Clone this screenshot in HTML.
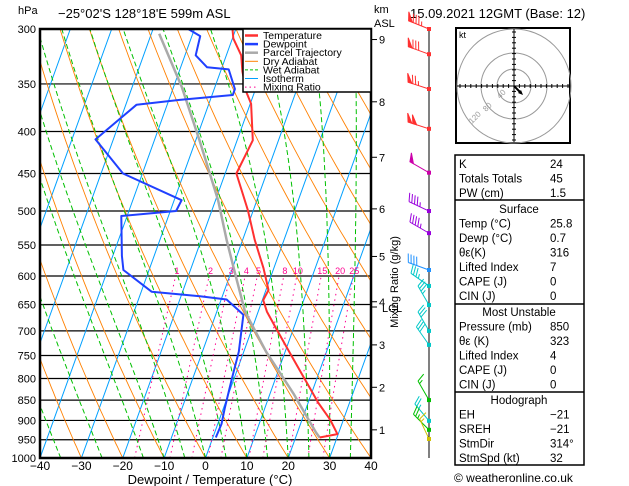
<!DOCTYPE html>
<html><head><meta charset="utf-8"><style>
body{margin:0;background:#fff;}
svg{display:block;font-family:"Liberation Sans",sans-serif;}
</style></head><body>
<svg id="c" width="629" height="486" viewBox="0 0 629 486" xmlns="http://www.w3.org/2000/svg">
<defs><clipPath id="pc"><rect x="40" y="29" width="331" height="429"/></clipPath></defs>
<text x="18" y="14" font-size="11">hPa</text>
<text x="58" y="18" font-size="13">−25°02'S 128°18'E 599m ASL</text>
<text x="374" y="13" font-size="11">km</text>
<text x="374" y="27" font-size="11">ASL</text>
<text x="410" y="18" font-size="13">15.09.2021 12GMT (Base: 12)</text>
<g id="grid" clip-path="url(#pc)"></g>
<g id="iso" clip-path="url(#pc)"></g>
<g id="series" clip-path="url(#pc)"></g>
<g id="axes"></g>
<g id="legend">
<rect x="243" y="29" width="128" height="63" fill="#fff" stroke="#000" stroke-width="1.5"/>
</g>
<g id="barbs"></g>
<g id="hodo"></g>
<g id="table"></g>
<text x="454" y="482" font-size="12">© weatheronline.co.uk</text>
</svg>
<script>
const tempP=[300,308,323,338,359,370,410,450,499,542,587,624,642,663,698,745,796,857,898,935,944];
const tempT=[-30.8,-29.8,-26.4,-24.7,-21.8,-19.8,-16.2,-17.3,-11.3,-7.1,-2.5,0.6,0.2,2.1,6.1,11.3,16.6,22.5,26.8,29.8,25.8];
const dewP=[300,306,323,334,336,355,361,366,371,409,450,485,500,507,567,590,627,635,641,660,669,742,803,868,909,944];
const dewT=[-41.5,-38,-37.4,-33.6,-28.2,-25,-25,-37.4,-47.4,-54.3,-44.7,-28.2,-28.6,-41.4,-37.8,-36.2,-27.5,-15.4,-8.7,-5,-3.3,-1.2,-0.5,0.3,0.9,0.7];
const parcelP=[304,353,410,485,542,596,663,742,834,931,944];
const parcelT=[-48.1,-38,-29.1,-19.4,-13.9,-8.9,-3.2,5.4,15.6,24.5,25.8];
const pLevels=[300,350,400,450,500,550,600,650,700,750,800,850,900,950,1000];
const tTicks=[-40,-30,-20,-10,0,10,20,30,40];
const kmLabels=["9","8","7","6","5","4","3","2","1"];
const kmPress=[309,368,430,497,568,645,728,820,924];
const mixW=[1,2,3,4,5,8,10,15,20,25];
const barbP=[300,322,355,397,449,500,532,590,617,651,700,728,850,901,924,948];
const barbSpd=[85,80,75,100,50,45,45,40,35,35,30,30,15,25,25,15];
const barbDir=[292,290,288,288,300,295,300,290,305,330,330,325,330,320,315,335];
const barbCol=["#ff3030","#ff3030","#ff3030","#ff3030","#cc00aa","#9900dd","#9900dd","#1e90ff","#00c8c8","#00c8c8","#00c8c8","#00c8c8","#00c000","#00c8c8","#00c000","#d0c000"];

const NS="http://www.w3.org/2000/svg";
const L=Math.log(1000/300);
function Y(p){return 29+429*Math.log(p/300)/L;}
function X(T,p){return 40+(T+40)*4.1375+0.36*(458-Y(p));}
function mk(tag,attrs,parent){const e=document.createElementNS(NS,tag);for(const k in attrs)e.setAttribute(k,attrs[k]);parent.appendChild(e);return e;}
function pathFrom(pts){return pts.map((q,i)=>(i?"L":"M")+q[0].toFixed(1)+","+q[1].toFixed(1)).join("");}
const grid=document.getElementById('grid'),iso=document.getElementById('iso'),ser=document.getElementById('series'),ax=document.getElementById('axes');

for(let T=-120;T<=40;T+=10){
  const e=mk('line',{x1:X(T,1000),y1:Y(1000),x2:X(T,300),y2:Y(300),stroke:"#00a0ff","stroke-width":1},iso);
  
  
}
for(let th=-60;th<=150;th+=10){
  const pts=[];for(let p=1000;p>=300;p-=10){const T=(th+273.15)*Math.pow(p/1000,0.286)-273.15;pts.push([X(T,p),Y(p)]);}
  const e=mk('path',{d:pathFrom(pts),fill:"none",stroke:"#ff8000","stroke-width":0.9},iso);
  
  
}
function es(Tc){return 6.112*Math.exp(17.67*Tc/(Tc+243.5));}
const wetStart=[-35,-25,-15,-10,-5,0,5,10,15,20,25,30,35,40];
wetStart.forEach(t0=>{
  let T=t0+273.15;const pts=[];
  for(let p=1000;p>=300;p-=5){
    pts.push([X(T-273.15,p),Y(p)]);
    const e=es(T-273.15),rs=0.622*e/(p-e);
    const dTdp=(287*T+2.5e6*rs)/(p*(1004+2.5e6*2.5e6*rs*0.622/(287*T*T)));
    T-=dTdp*5;
  }
  const e=mk('path',{d:pathFrom(pts),fill:"none",stroke:"#00c000","stroke-width":1,"stroke-dasharray":"5,3"},iso);
  
  
});
mixW.forEach(w=>{
  const pts=[];
  for(let p=1000;p>=600;p-=10){const e=w*p/(622+w),l=Math.log(e/6.112),Td=243.5*l/(17.67-l);pts.push([X(Td,p),Y(p)]);}
  const e=mk('path',{d:pathFrom(pts),fill:"none",stroke:"#ff0090","stroke-width":1,"stroke-dasharray":"1.5,4"},iso);
  
  
  const ee=w*590/(622+w),l=Math.log(ee/6.112),Td=243.5*l/(17.67-l);
  const t=mk('text',{x:X(Td,590),y:Y(590)+4,"font-size":9,fill:"#ff0090","text-anchor":"middle"},ser);
  t.textContent=w;
  
  
});
pLevels.forEach(p=>{
  const e=mk('line',{x1:40,x2:371,y1:Y(p),y2:Y(p),stroke:"#000","stroke-width":1.2},grid);
  
  
  const t=mk('text',{x:36,y:Y(p)+4,"font-size":11,"text-anchor":"end"},ax);
  t.textContent=p;
  
  
});
function line(P,T,col,w,name){
  const pts=P.map((p,i)=>[X(T[i],p),Y(p)]);
  const e=mk('path',{d:pathFrom(pts),fill:"none",stroke:col,"stroke-width":w,"stroke-linejoin":"round"},ser);
  
  
}
line(parcelP,parcelT,"#aaaaaa",2.5,'parcel-trajectory');
line(tempP,tempT,"#ff3030",2,'temperature-line');
line(dewP,dewT,"#2040ff",2,'dewpoint-line');
const fr=mk('rect',{x:40,y:29,width:331,height:429,fill:"none",stroke:"#000","stroke-width":2.5},ax);


tTicks.forEach(T=>{
  const t=mk('text',{x:40+(T+40)*4.1375,y:470,"font-size":12,"text-anchor":"middle"},ax);
  t.textContent=T<0?"−"+(-T):T;
  
  
});
const xt=mk('text',{x:210,y:484,"font-size":13,"text-anchor":"middle"},ax);
xt.textContent="Dewpoint / Temperature (°C)";


kmLabels.forEach((k,i)=>{
  const y=Y(kmPress[i]);
  const l=mk('line',{x1:371,x2:377,y1:y,y2:y,stroke:"#000","stroke-width":1},ax);
  
  
  const t=mk('text',{x:379,y:y+4,"font-size":11},ax);
  t.textContent=k;
  
  
});
const lcl=mk('text',{x:382,y:312,"font-size":11},ax);lcl.textContent="LCL";


mk('line',{x1:371,x2:377,y1:307,y2:307,stroke:"#000"},ax);
const mr=mk('text',{x:0,y:0,"font-size":11,"text-anchor":"middle",transform:"translate(398,282) rotate(-90)"},ax);
mr.textContent="Mixing Ratio (g/kg)";


const leg=document.getElementById('legend');
[["Temperature","#ff3030",""],["Dewpoint","#2040ff",""],["Parcel Trajectory","#aaaaaa",""],["Dry Adiabat","#ff8000",""],["Wet Adiabat","#00c000","3,2"],["Isotherm","#00a0ff",""],["Mixing Ratio","#ff0090","1.5,3"]].forEach((d,i)=>{
  const y=35.5+i*8.6;
  mk('line',{x1:245,x2:258,y1:y,y2:y,stroke:d[1],"stroke-width":i<3?2.5:1,"stroke-dasharray":d[2]},leg);
  const t=mk('text',{x:263,y:y+3.5,"font-size":10.5},leg);t.textContent=d[0];
  
  
});
const bg=document.getElementById('barbs');
mk('line',{x1:429,x2:429,y1:28,y2:458,stroke:"#000","stroke-width":1},bg);
barbP.forEach((p,i)=>{
  const y=Y(p),x=429,col=barbCol[i],a=barbDir[i]*Math.PI/180;
  const ux=Math.sin(a),uy=-Math.cos(a),len=22;
  const tx=x+ux*len,ty=y+uy*len;
  const g=mk('g',{stroke:col,fill:col,"stroke-width":1},bg);
  
  
  mk('line',{x1:x,y1:y,x2:tx,y2:ty},g);
  mk('rect',{x:x-2,y:y-2,width:4,height:4,stroke:"none"},g);
  const fx=(-uy)*0.93+ux*0.35,fy=ux*0.93+uy*0.35,fl=9;
  let s=barbSpd[i],d=0;
  while(s>=50){const bx=tx-ux*d,by=ty-uy*d;
    mk('polygon',{points:`${bx},${by} ${bx+fx*fl},${by+fy*fl} ${bx-ux*4},${by-uy*4}`},g);d+=5;s-=50;}
  while(s>=10){const bx=tx-ux*d,by=ty-uy*d;mk('line',{x1:bx,y1:by,x2:bx+fx*fl,y2:by+fy*fl},g);d+=3;s-=10;}
  if(s>=5){const bx=tx-ux*d,by=ty-uy*d;mk('line',{x1:bx,y1:by,x2:bx+fx*fl/2,y2:by+fy*fl/2},g);}
});
const hg=document.getElementById('hodo');
const cx=514,cy=86;
mk('rect',{x:456,y:28,width:114,height:115,fill:"#fff",stroke:"#000","stroke-width":2},hg);
[17,33,57].forEach(r=>mk('circle',{cx:cx,cy:cy,r:r,fill:"none",stroke:"#999","stroke-width":1},hg));
mk('line',{x1:457,x2:569,y1:cy,y2:cy,stroke:"#000"},hg);
mk('line',{x1:cx,x2:cx,y1:29,y2:142,stroke:"#000"},hg);
for(let k=-10;k<=10;k++){if(!k)continue;const o=k*5.4;
  mk('line',{x1:cx+o,x2:cx+o,y1:cy-2,y2:cy+2,stroke:"#000"},hg);
  mk('line',{x1:cx-2,x2:cx+2,y1:cy+o,y2:cy+o,stroke:"#000"},hg);}
[["40",500,99],["80",486,112],["120",472,124]].forEach(d=>{const t=mk('text',{x:d[1],y:d[2],"font-size":8,fill:"#999",transform:`rotate(-45 ${d[1]} ${d[2]})`},hg);t.textContent=d[0];});
const hl=mk('text',{x:459,y:38,"font-size":9},hg);hl.textContent="kt";
mk('path',{d:`M${cx} ${cy} L${cx+3} ${cy+3} L${cx+7} ${cy+7}`,stroke:"#000","stroke-width":2,fill:"none"},hg);
mk('polygon',{points:`${cx+9},${cy+9} ${cx+4},${cy+7} ${cx+7},${cy+4}`,fill:"#000"},hg);
const tb=document.getElementById('table');
mk('rect',{x:455,y:155,width:129,height:310,fill:"#fff",stroke:"#000","stroke-width":1.5},tb);
[200,304,392].forEach(y=>mk('line',{x1:455,x2:584,y1:y,y2:y,stroke:"#000","stroke-width":1.5},tb));
const rows=[["K","24",164],["Totals Totals","45",178.5],["PW (cm)","1.5",193],["Surface","",209],["Temp (°C)","25.8",223.5],["Dewp (°C)","0.7",238],["θε(K)","316",252.5],["Lifted Index","7",267],["CAPE (J)","0",281.5],["CIN (J)","0",296],["Most Unstable","",312],["Pressure (mb)","850",326.5],["θε (K)","323",341],["Lifted Index","4",355.5],["CAPE (J)","0",370],["CIN (J)","0",384.5],["Hodograph","",400],["EH","−21",414.5],["SREH","−21",429],["StmDir","314°",443.5],["StmSpd (kt)","32",458]];
rows.forEach(r=>{
  const hdr=r[1]==="";
  const t=mk('text',{x:hdr?519:459,y:r[2]+4,"font-size":11.5,"text-anchor":hdr?"middle":"start"},tb);t.textContent=r[0];
  
  
  if(!hdr){const v=mk('text',{x:550,y:r[2]+4,"font-size":11.5},tb);v.textContent=r[1];
  
  }
});
</script>
</body></html>
